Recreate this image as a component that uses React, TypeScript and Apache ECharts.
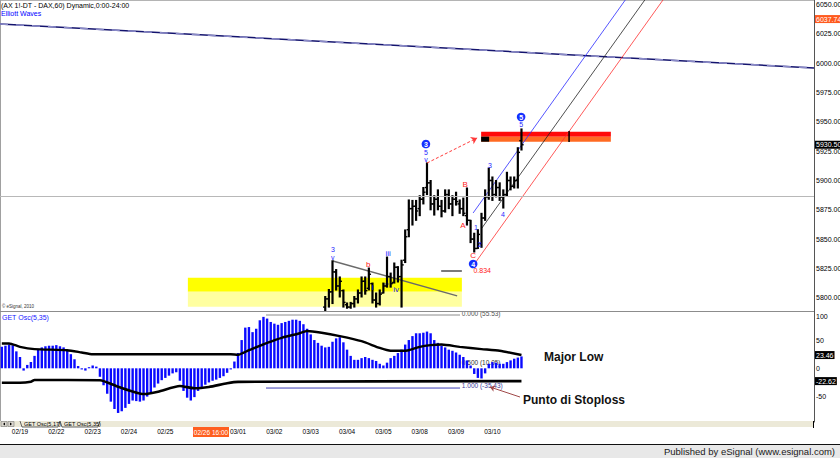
import React, { useEffect, useRef } from 'react';
import * as echarts from 'echarts';

const FONT = '"Liberation Sans", Arial, sans-serif';
const BLUE = '#1f1fff';
const RED = '#ff2222';

// ---- axes / categories ----
const DAYS = ['02/19', '02/22', '02/23', '02/24', '02/25', '02/26', '03/01', '03/02', '03/03', '03/04', '03/05', '03/08', '03/09', '03/10'];
const BARS_PER_DAY = 10;
const CURSOR_DAY = '02/26';
const CURSOR_LABEL = '02/26 16:00';
const DAY_TICKS = DAYS.map((d, k) => (d === CURSOR_DAY ? -1000 : k * BARS_PER_DAY)).filter((v) => v >= 0);
const PRICE_TICKS = [5800, 5825, 5850, 5875, 5900, 5925, 5950, 5975, 6000, 6025, 6050];
const OSC_TICKS = [100, 50, 0, -50];
const X_MIN = -5.5;
const X_MAX = 218.5;
const PRICE_MIN = 5788.65;
const PRICE_MAX = 6054;
const OSC_MIN = -95;
const OSC_MAX = 101.4;

// ---- hourly OHLC bars (index 84 .. 138) ----
const OHLC_START = 84;
const OPEN = [5792, 5799, 5805, 5822, 5810, 5806, 5794, 5792, 5795, 5799, 5804, 5814, 5808, 5812, 5798, 5795, 5804, 5810, 5818, 5813, 5826, 5818, 5832, 5858, 5876, 5878, 5876, 5884, 5894, 5898, 5880, 5884, 5878, 5874, 5888, 5880, 5884, 5880, 5876, 5870, 5866, 5850, 5842, 5846, 5868, 5886, 5900, 5888, 5894, 5886, 5888, 5900, 5895, 5900, 5934];
const CLOSE = [5799, 5805, 5822, 5810, 5814, 5796, 5792, 5795, 5799, 5804, 5814, 5806, 5820, 5798, 5795, 5803, 5810, 5818, 5812, 5826, 5818, 5828, 5852, 5876, 5878, 5874, 5884, 5890, 5898, 5880, 5884, 5878, 5874, 5888, 5880, 5884, 5882, 5876, 5872, 5866, 5850, 5842, 5854, 5868, 5886, 5900, 5888, 5894, 5886, 5888, 5900, 5895, 5900, 5924, 5930.5];
const LOW = [5788, 5792, 5795, 5806.5, 5800.6, 5792, 5791, 5791, 5792, 5795.5, 5800.6, 5803, 5806.6, 5795.5, 5792, 5793.8, 5804, 5809, 5809, 5812.5, 5813.4, 5792, 5830, 5852, 5862, 5866, 5870, 5880, 5888, 5875, 5870.5, 5875, 5869, 5873, 5876, 5870, 5879, 5872, 5870, 5862, 5847, 5839, 5842, 5843, 5866, 5884, 5883, 5886, 5883, 5876.5, 5887, 5892, 5893.6, 5893.6, 5926];
const HIGH = [5801, 5807, 5831.5, 5824, 5817.7, 5806.6, 5795.5, 5796, 5801, 5806.6, 5817.7, 5817.7, 5825.3, 5812.5, 5804, 5806.6, 5812.5, 5834.7, 5821, 5829.6, 5826.5, 5832, 5857.8, 5883.4, 5883, 5883, 5887, 5894, 5915, 5900, 5887, 5892, 5883, 5892, 5892, 5887, 5890, 5883.4, 5885, 5893.6, 5866, 5855, 5858, 5872, 5892, 5910.6, 5903, 5900, 5898, 5892, 5907, 5903, 5903, 5928, 5944];

// ---- GET oscillator histogram (index -5 .. 138) ----
const OSC_START = -5;
const OSC = [38, 40, 42, 41, 30, 20, -4, 6, 11, 22, 33, 37, 39, 40, 40, 41, 39, 37, 32, 25, 16, 4, -2, -4, 2, 5, 3, -15, -30, -45, -59, -72, -79, -76, -70, -63, -57, -58, -59, -57, -50, -43, -34, -27, -21, -17, -13, -9, -7, -22, -40, -52, -57, -51, -40, -33, -29, -25, -22, -20, -17, -14, -8, -2, 12, 27, 50, 72, 73, 64, 70, 85, 91, 88, 82, 79, 77, 80, 82, 84, 86, 86, 84, 78, 70, 60, 50, 45, 40, 37, 38, 47, 53, 55, 46, 33, 22, 15, 15, 18, 20, 18, 15, 13, 8, 5, 10, 18, 22, 27, 33, 42, 50, 57, 62, 62, 63, 65, 62, 50, 45, 40, 37, 33, 31, 28, 24, 20, 14, 5, -10, -17, -18, -9, 8, 11, 10, 8, 8, 11, 14, 17, 19, 21];

// oscillator bands (vertices)
const OSC_UPPER = [[-5, 44], [-3, 44], [0, 38], [4, 34], [13, 32], [17, 28], [20, 25], [58, 25], [60, 24], [63, 32], [68, 45], [72, 54], [77, 62], [79, 66], [83, 63], [88, 57], [94, 48], [99, 36], [102, 31], [105, 31], [107, 32], [110, 38], [113, 41], [116, 42], [121, 38], [127, 34], [132, 31], [138, 23.46]];
const OSC_LOWER = [[-5, -25.5], [0, -25.5], [3, -23.7], [4, -20.7], [22, -21], [27, -32.6], [34, -45.5], [38, -41.4], [44, -31.3], [48, -35.4], [52, -33], [57, -26.5], [60, -24], [138, -22.62]];
const UPPER_LAST = 23.46;
const LOWER_LAST = -22.62;
const FIB_TOP = [[67.7, 94.3], [121.1, 94.3]];
const FIB_BOTTOM = [[67.7, -34.9], [121.1, -34.9]];
const STOPLOSS_ARROW = [[137.6, -50.8], [129.3, -33]];

// ---- price drawings ----
const LAST_PRICE = 5930.5;
const STUDY_VALUE = 6037.74;
const H_LINE = 5886.2;
const NAVY_LINE = [[-5.5, 6033.5], [218.5, 5996]];
const CHANNEL_BLUE = [[124.7, 5872.3], [175, 6090.6]];
const CHANNEL_BLACK = [[127.05, 5859.2], [180, 6089]];
const CHANNEL_RED = [[125.2, 5829.4], [185, 6089]];
const TRIANGLE_LINE = [[86.1, 5831.3], [120.3, 5801.5]];
const SHORT_LINE = [[115.9, 5822.8], [121.6, 5822.8]];
const IV_DASH = [[99.9, 5811.7], [101.5, 5811.7]];
const ARROW_TO_TARGET = [[112, 5914.9], [125.8, 5936.3]];
const YELLOW_X = [46.2, 121.6];
const YELLOW_STRONG = [5805.1, 5817.1];
const YELLOW_PALE = [5792.3, 5805.1];
const TARGET_X = [126.9, 162.6];
const TARGET_RED = [5937.4, 5941.6];
const TARGET_ORANGE = [5933.1, 5937.4];
const TARGET_BLACK_X = [126.9, 129.1];
const TARGET_TICK = [[151.1, 5932.8], [151.1, 5942.2]];

// wave labels: [index, price, text, color, circled]
const PRICE_NOTES: [number, number, string, string, number][] = [
  [86.1, 5840.7, '3', BLUE, 0],
  [86.1, 5834.7, 'v', BLUE, 0],
  [95.8, 5827.9, 'b', RED, 0],
  [97.1, 5808.3, 'i', BLUE, 0],
  [101.3, 5838.1, 'iii', BLUE, 0],
  [103.5, 5806.6, 'iv', BLUE, 0],
  [111.7, 5931.1, '3', BLUE, 1],
  [111.7, 5923.5, '5', BLUE, 0],
  [111.7, 5917.5, 'v', BLUE, 0],
  [122.5, 5896.2, 'B', RED, 0],
  [121.9, 5861.2, 'A', RED, 0],
  [124.7, 5835.6, 'C', RED, 0],
  [124.7, 5828.8, '4', BLUE, 1],
  [127.2, 5822.8, '0.834', RED, 0],
  [125.5, 5860.3, '1', BLUE, 0],
  [126.6, 5845, '2', BLUE, 0],
  [129.3, 5913.2, '3', BLUE, 0],
  [132.9, 5870.6, '4', BLUE, 0],
  [137.9, 5947.4, '5', BLUE, 0],
  [137.9, 5954.2, '5', BLUE, 1],
];
// oscillator fib labels: [index, value, text, color]
const OSC_NOTES: [number, number, string, string][] = [
  [121.6, 96.5, '0.000 (55.53)', '#505050'],
  [121.6, 9.5, '0.500 (10.05)', '#303030'],
  [121.6, -29.6, '1.000 (-35.43)', '#3a3a9a'],
];

function buildOption() {
  const ohlcData = OPEN.map((o, k) => [OHLC_START + k, o, CLOSE[k], LOW[k], HIGH[k]]);
  const oscData = OSC.map((v, k) => [OSC_START + k, v]);
  const lbl = (size: number, color = '#000') => ({ fontSize: size, color, fontFamily: FONT });
  const boxLabel = (text: string, bg: string) => ({
    show: true, position: 'end', distance: 1, formatter: text, backgroundColor: bg, opacity: 1,
    color: '#fff', fontSize: 7, fontFamily: FONT, padding: [1, 1, 0, 1],
  });
  const gText = (x: number, y: number, text: string, font: string, fill: string, align = 'left', z = 10) => ({
    type: 'text', x, y, z, silent: true, style: { text, font, fill, align, verticalAlign: 'middle' },
  });
  const simpleLine = (data: number[][], color: string, width: number, extra: any = {}) => ({
    type: 'line', xAxisIndex: 0, yAxisIndex: 0, data, symbol: 'none', silent: true, z: 2,
    lineStyle: { color, width, ...extra },
  });
  // unclipped carrier for right-axis value boxes
  const boxSeries = (xi: number, yi: number, value: number, text: string, bg: string) => ({
    type: 'line', xAxisIndex: xi, yAxisIndex: yi, data: [[X_MAX, value]], symbol: 'none', silent: true,
    clip: false, z: 8, lineStyle: { width: 0, color: 'rgba(0,0,0,0)' },
    markLine: {
      silent: true, symbol: ['none', 'none'],
      data: [{ yAxis: value, lineStyle: { width: 0, color: 'rgba(0,0,0,0)' }, label: boxLabel(text, bg) }],
    },
  });

  return {
    animation: false,
    backgroundColor: '#ffffff',
    grid: [
      { left: 0, right: 26, top: 0, height: 311, outerBoundsMode: 'none' },
      { left: 0, right: 26, top: 311, height: 111, outerBoundsMode: 'none' },
    ],
    xAxis: [
      { type: 'value', gridIndex: 0, min: X_MIN, max: X_MAX, show: false },
      {
        type: 'value', gridIndex: 1, min: X_MIN, max: X_MAX,
        axisLine: { show: false }, axisTick: { show: false }, splitLine: { show: false },
        axisLabel: {
          customValues: DAY_TICKS, margin: 6, ...lbl(6.5),
          formatter: (v: number) => DAYS[Math.round(v / BARS_PER_DAY)] ?? '',
        },
      },
    ],
    yAxis: [
      {
        type: 'value', gridIndex: 0, position: 'right', min: PRICE_MIN, max: PRICE_MAX,
        axisLine: { show: true, onZero: false, lineStyle: { color: '#555', width: 1 } }, axisTick: { show: false }, splitLine: { show: false },
        axisLabel: { customValues: PRICE_TICKS, margin: 2, ...lbl(7), formatter: (v: number) => v.toFixed(2) },
      },
      {
        type: 'value', gridIndex: 1, position: 'right', min: OSC_MIN, max: OSC_MAX,
        axisLine: { show: true, onZero: false, lineStyle: { color: '#555', width: 1 } }, axisTick: { show: false }, splitLine: { show: false },
        axisLabel: {
          customValues: OSC_TICKS, margin: 2, ...lbl(7),
          formatter: (v: number) => (v === 100 ? '{t|100}' : String(v)),
          rich: { t: { padding: [10, 0, 0, 0], fontSize: 7, color: '#000', fontFamily: FONT } },
        },
      },
    ],
    series: [
      // navy long line + zones + horizontal line
      {
        ...simpleLine(NAVY_LINE, '#14146e', 1.5),
        markArea: {
          silent: true,
          data: [
            [{ coord: [YELLOW_X[0], YELLOW_STRONG[0]], itemStyle: { color: '#ffff00' } }, { coord: [YELLOW_X[1], YELLOW_STRONG[1]] }],
            [{ coord: [YELLOW_X[0], YELLOW_PALE[0]], itemStyle: { color: '#ffffa0' } }, { coord: [YELLOW_X[1], YELLOW_PALE[1]] }],
            [{ coord: [TARGET_X[0], TARGET_RED[0]], itemStyle: { color: '#ff0a0a' } }, { coord: [TARGET_X[1], TARGET_RED[1]] }],
            [{ coord: [TARGET_X[0], TARGET_ORANGE[0]], itemStyle: { color: '#ff6a22' } }, { coord: [TARGET_X[1], TARGET_ORANGE[1]] }],
            [{ coord: [TARGET_BLACK_X[0], TARGET_ORANGE[0]], itemStyle: { color: '#000' } }, { coord: [TARGET_BLACK_X[1], TARGET_ORANGE[1]] }],
          ],
        },
        markLine: {
          silent: true, symbol: ['none', 'none'],
          data: [
            { yAxis: H_LINE, lineStyle: { color: '#b8b8b8', width: 1, type: 'solid' }, label: { show: false } },
          ],
        },
      },
      simpleLine(NAVY_LINE, '#8a8ac8', 1.5, { type: [8, 8] }),
      simpleLine(CHANNEL_BLUE, '#2a2aff', 0.8),
      simpleLine(CHANNEL_BLACK, '#222', 0.8),
      simpleLine(CHANNEL_RED, '#ff3030', 0.8),
      simpleLine(TRIANGLE_LINE, '#6a6a6a', 1.4),
      simpleLine(SHORT_LINE, '#7a7a7a', 2),
      simpleLine(IV_DASH, '#8a8a8a', 1.5),
      simpleLine(TARGET_TICK, '#000', 1.5),
      {
        ...simpleLine([], '#000', 1),
        markLine: {
          silent: true, symbol: ['none', 'arrow'], symbolSize: 6,
          label: { show: false },
          lineStyle: { color: '#ff3a3a', width: 1, type: [3, 2] },
          data: [[{ coord: ARROW_TO_TARGET[0] }, { coord: ARROW_TO_TARGET[1] }]],
        },
      },
      boxSeries(0, 0, STUDY_VALUE, STUDY_VALUE.toFixed(2), '#ff5a1e'),
      boxSeries(0, 0, LAST_PRICE, LAST_PRICE.toFixed(2), '#000'),
      // OHLC bars
      {
        type: 'custom', xAxisIndex: 0, yAxisIndex: 0, z: 3, clip: true, silent: true,
        data: ohlcData,
        encode: { x: 0, y: [1, 2, 3, 4] },
        renderItem: (_p: any, api: any) => {
          const i = api.value(0);
          const o = api.coord([i, api.value(1)]);
          const c = api.coord([i, api.value(2)]);
          const l = api.coord([i, api.value(3)]);
          const h = api.coord([i, api.value(4)]);
          return {
            type: 'group',
            children: [
              { type: 'line', shape: { x1: h[0], y1: h[1] - 0.5, x2: l[0], y2: l[1] + 0.5 }, style: { stroke: '#000', lineWidth: 2.2 } },
              { type: 'line', shape: { x1: o[0] - 2.2, y1: o[1], x2: o[0], y2: o[1] }, style: { stroke: '#000', lineWidth: 1.4 } },
              { type: 'line', shape: { x1: c[0], y1: c[1], x2: c[0] + 2.2, y2: c[1] }, style: { stroke: '#000', lineWidth: 1.4 } },
            ],
          };
        },
      },
      // wave labels
      {
        type: 'custom', xAxisIndex: 0, yAxisIndex: 0, z: 6, clip: false, silent: true,
        data: PRICE_NOTES.map((n) => [n[0], n[1]]),
        encode: { x: 0, y: 1 },
        renderItem: (p: any, api: any) => {
          const n = PRICE_NOTES[p.dataIndex];
          const pt = api.coord([n[0], n[1]]);
          if (n[4]) {
            return {
              type: 'group',
              children: [
                { type: 'circle', shape: { cx: pt[0], cy: pt[1], r: 4.3 }, style: { fill: '#1430ff' } },
                { type: 'text', style: { x: pt[0], y: pt[1] + 0.5, text: n[2], fill: '#fff', font: `bold 7px ${FONT}`, align: 'center', verticalAlign: 'middle' } },
              ],
            };
          }
          const big = /[A-Cb]|iii|iv|^i$/.test(n[2]);
          return {
            type: 'text',
            style: { x: pt[0], y: pt[1], text: n[2], fill: n[3], font: `${big ? 8 : 7}px ${FONT}`, align: 'center', verticalAlign: 'middle' },
          };
        },
      },
      // ---- oscillator panel ----
      {
        type: 'line', xAxisIndex: 1, yAxisIndex: 1, data: FIB_TOP, symbol: 'none', silent: true, z: 1,
        lineStyle: { color: '#8c8c8c', width: 1 },
      },
      {
        type: 'line', xAxisIndex: 1, yAxisIndex: 1, data: FIB_BOTTOM, symbol: 'none', silent: true, z: 1,
        lineStyle: { color: '#3c3cb4', width: 1 },
        markLine: {
          silent: true, symbol: ['none', 'arrow'], symbolSize: 5, label: { show: false },
          lineStyle: { color: '#a04848', width: 1, type: 'solid' },
          data: [[{ coord: STOPLOSS_ARROW[0] }, { coord: STOPLOSS_ARROW[1] }]],
        },
      },
      {
        type: 'custom', xAxisIndex: 1, yAxisIndex: 1, z: 1, clip: false, silent: true,
        data: OSC_NOTES.map((n) => [n[0], n[1]]),
        encode: { x: 0, y: 1 },
        renderItem: (p: any, api: any) => {
          const n = OSC_NOTES[p.dataIndex];
          const pt = api.coord([n[0], n[1]]);
          return { type: 'text', style: { x: pt[0], y: pt[1], text: n[2], fill: n[3], font: `6.5px ${FONT}`, align: 'left', verticalAlign: 'middle' } };
        },
      },
      {
        type: 'bar', xAxisIndex: 1, yAxisIndex: 1, data: oscData, barWidth: 2.4, z: 2, silent: true,
        itemStyle: { color: '#0a0aff' },
      },
      {
        type: 'line', xAxisIndex: 1, yAxisIndex: 1, data: OSC_UPPER, symbol: 'none', silent: true, z: 3, smooth: 0.2,
        lineStyle: { color: '#000', width: 2.4 },
      },
      {
        type: 'line', xAxisIndex: 1, yAxisIndex: 1, data: OSC_LOWER, symbol: 'none', silent: true, z: 3, smooth: 0.2,
        lineStyle: { color: '#000', width: 2.6 },
      },
      boxSeries(1, 1, UPPER_LAST, String(UPPER_LAST), '#000'),
      boxSeries(1, 1, LOWER_LAST, String(LOWER_LAST), '#000'),
    ],
    graphic: [
      { type: 'line', silent: true, shape: { x1: 0, y1: 0.5, x2: 814, y2: 0.5 }, style: { stroke: '#b4b4b4', lineWidth: 1 } },
      { type: 'line', silent: true, shape: { x1: 0.5, y1: 0, x2: 0.5, y2: 421 }, style: { stroke: '#a0a0a0', lineWidth: 1 } },
      { type: 'line', silent: true, z: 5, shape: { x1: 0, y1: 311.5, x2: 814, y2: 311.5 }, style: { stroke: '#8c8c8c', lineWidth: 1 } },
      gText(1, 5.5, '(AX 1!-DT - DAX,60) Dynamic,0:00-24:00', `7px ${FONT}`, '#000'),
      gText(1, 13.5, 'Elliott Waves', `7px ${FONT}`, '#0000ff'),
      gText(2, 306, '© eSignal, 2010', `4.5px ${FONT}`, '#333'),
      gText(2, 317.5, 'GET Osc(5,35)', `7px ${FONT}`, '#2020ff'),
      gText(544, 357, 'Major Low', `bold 12px ${FONT}`, '#111'),
      gText(523, 400, 'Punto di Stoploss', `bold 12px ${FONT}`, '#111'),
      // tab strip
      { type: 'rect', silent: true, shape: { x: 0, y: 421, width: 813, height: 6 }, style: { fill: '#ece9d8' } },
      { type: 'line', silent: true, shape: { x1: 813.5, y1: 421, x2: 813.5, y2: 428 }, style: { stroke: '#000', lineWidth: 1 } },
      { type: 'rect', silent: true, shape: { x: 1, y: 421.5, width: 6, height: 5 }, style: { fill: '#d8d4cc', stroke: '#7a7a7a', lineWidth: 0.6 } },
      { type: 'rect', silent: true, shape: { x: 8, y: 421.5, width: 6, height: 5 }, style: { fill: '#d8d4cc', stroke: '#7a7a7a', lineWidth: 0.6 } },
      { type: 'polygon', silent: true, shape: { points: [[5, 422.5], [3, 424], [5, 425.5]] }, style: { fill: '#000' } },
      { type: 'polygon', silent: true, shape: { points: [[10, 422.5], [12, 424], [10, 425.5]] }, style: { fill: '#000' } },
      { type: 'polyline', silent: true, shape: { points: [[20, 421], [22, 427], [58, 427], [60, 421]] }, style: { stroke: '#404040', lineWidth: 0.8, fill: null } },
      { type: 'polyline', silent: true, shape: { points: [[60, 421], [62, 427], [98, 427], [100, 421]] }, style: { stroke: '#404040', lineWidth: 0.8, fill: null } },
      gText(24, 424, 'GET Osc(5,17)', `5.5px ${FONT}`, '#000'),
      gText(64, 424, 'GET Osc(5,35)', `5.5px ${FONT}`, '#000'),
      // cursor date box
      { type: 'rect', silent: true, z: 100, shape: { x: 193, y: 427, width: 36, height: 10 }, style: { fill: '#ff5f1f' } },
      gText(211, 432.5, CURSOR_LABEL, `6.5px ${FONT}`, '#fff', 'center', 101),
      // status bar
      { type: 'line', silent: true, shape: { x1: 0, y1: 444.5, x2: 840, y2: 444.5 }, style: { stroke: '#111', lineWidth: 1 } },
      { type: 'rect', silent: true, shape: { x: 0, y: 445, width: 840, height: 13 }, style: { fill: '#e8e8e8' } },
      gText(835, 451.5, 'Published by eSignal (www.esignal.com)', `9.5px ${FONT}`, '#1a1a1a', 'right'),
    ],
  };
}

export default function App() {
  const ref = useRef<HTMLDivElement>(null);
  useEffect(() => {
    if (!ref.current) return;
    const chart = echarts.init(ref.current, null, { renderer: 'svg' });
    chart.setOption(buildOption() as any);
    return () => chart.dispose();
  }, []);
  return (
    <div
      ref={ref}
      style={{ position: 'fixed', left: 0, top: 0, width: 840, height: 458, background: '#fff' }}
    />
  );
}
